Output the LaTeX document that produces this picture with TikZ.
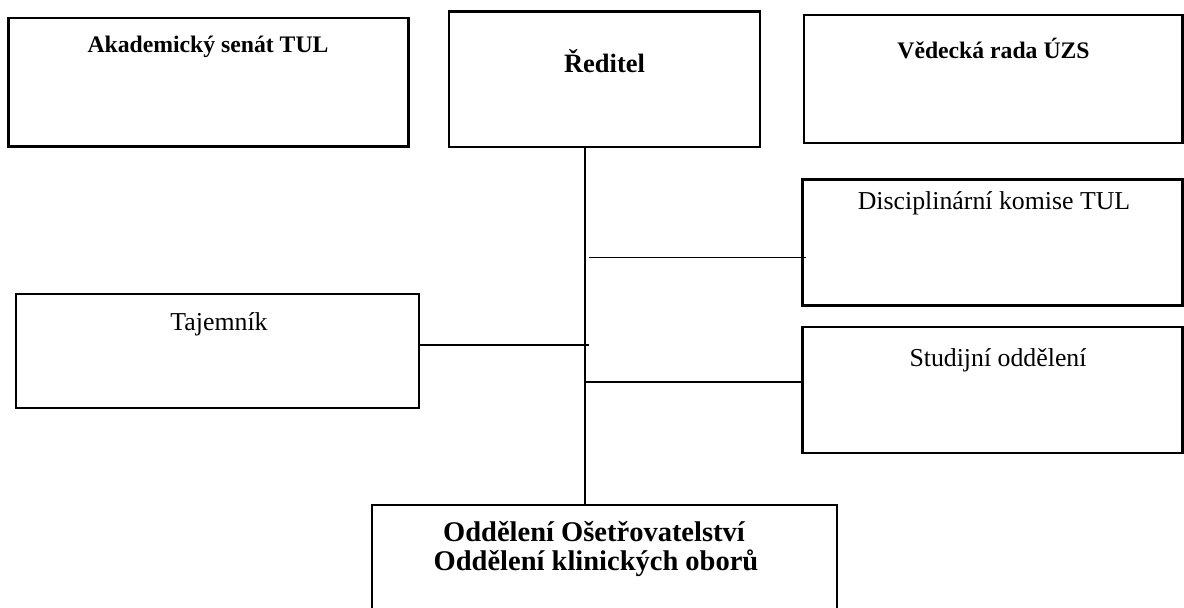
\documentclass[tikz,border=0pt]{standalone}
\usepackage{fontspec}
\setmainfont{Liberation Serif}
\begin{document}
\begin{tikzpicture}[x=1pt,y=-1pt,
  orgbox/.style={draw=black, line width=2.2pt, rectangle, inner sep=0pt, fill=none},
  conn/.style={draw=black, line width=1.8pt},
  boldlbl/.style={anchor=base, inner sep=0pt, font=\bfseries\fontsize{23.7}{28}\selectfont},
  reglbl/.style={anchor=base, inner sep=0pt, font=\fontsize{25.8}{30}\selectfont}]
\useasboundingbox (0,0) rectangle (1184,608);
\clip (0,0) rectangle (1184,608);
\fill[white] (0,0) rectangle (1184,608);

% boxes
\node[orgbox, minimum width=400pt, minimum height=128.5pt] (aka) at (208.5,82.25) {};
\node[orgbox, minimum width=311pt, minimum height=135.5pt] (red) at (604.5,79.25) {};
\node[orgbox, minimum width=378.5pt, minimum height=128pt] (ved) at (993.25,79) {};
\node[orgbox, minimum width=380pt, minimum height=126pt] (disc) at (992.5,242.5) {};
\node[orgbox, minimum width=403.6pt, minimum height=113.4pt] (taj) at (217.5,351) {};
\node[orgbox, minimum width=380pt, minimum height=126pt] (stud) at (992.5,390.3) {};
\node[orgbox, minimum width=464.4pt, minimum height=135pt] (odd) at (604.5,572.5) {};

% labels
\node[boldlbl] (akat) at (208,52) {Akademický senát TUL};
\node[boldlbl, font=\bfseries\fontsize{26.5}{30}\selectfont] (redt) at (604.5,72.7) {Ředitel};
\node[boldlbl] (vedt) at (993.5,58.3) {Vědecká rada ÚZS};
\node[reglbl] (disct) at (994,209.3) {Disciplinární komise TUL};
\node[reglbl] (tajt) at (219,330.7) {Tajemník};
\node[reglbl] (studt) at (998,366.7) {Studijní oddělení};
\node[boldlbl, font=\bfseries\fontsize{28.5}{32}\selectfont] (odd1) at (594,541.7) {Oddělení Ošetřovatelství};
\node[boldlbl, font=\bfseries\fontsize{28.5}{32}\selectfont] (odd2) at (596,570) {Oddělení klinických oborů};

% connectors
\coordinate (trunkx) at (585,0);
\coordinate (j1) at (589,257.5);
\coordinate (j2) at (589,345);
\coordinate (j3) at (584,382);
\draw[conn] (red.south -| trunkx) -- (odd.north -| trunkx);
\draw[conn] (j1) -- ([xshift=4.5pt]disc.west |- j1);
\draw[conn] (taj.east |- j2) -- (j2);
\draw[conn] (j3) -- (stud.west |- j3);
\end{tikzpicture}
\end{document}
